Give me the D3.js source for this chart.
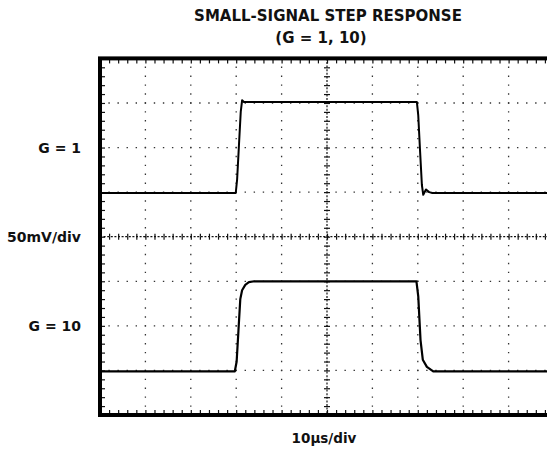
<!DOCTYPE html>
<html>
<head>
<meta charset="utf-8">
<script src="https://cdn.jsdelivr.net/npm/d3@7"></script>
<style>
    body { margin: 0; background: #fff; }
    text { font-family: "DejaVu Sans", sans-serif; font-weight: bold; fill: #111; }
</style>
</head>
<body>
<div id="chart"></div>
<script>
// horizontal: time in us (10us/div), vertical: mV (50mV/div)
const xDivs = d3.range(0, 101, 10);
const xMinor = d3.range(0, 101, 2);
const yDivs = d3.range(-200, 201, 50);
const yMinor = d3.range(-200, 201, 10);

// G = 1 trace
const g1Time  = [0, 29.9, 30.2, 30.6, 31.0, 31.3, 31.7, 32.5, 69.8, 70.1, 70.5, 70.9, 71.2, 71.8, 72.5, 73.2, 100];
const g1Volts = [49, 49, 64, 102, 140, 153, 151, 151, 151, 136, 96, 58, 47, 53, 50, 49, 49];

// G = 10 trace
const g10Time  = [0, 29.7, 30.1, 30.5, 30.9, 31.3, 32.0, 32.8, 34, 69.7, 70.1, 70.6, 71.1, 72.0, 73.4, 100];
const g10Volts = [-151, -151, -140, -105, -70, -60, -54, -51, -50, -50, -67, -116, -138, -146, -151, -151];

const sideLabels = [
    {text: "G = 1", v: 100},
    {text: "50mV/div", v: 0},
    {text: "G = 10", v: -100}
];

let width = 547, height = 453;

let svg = d3.select("#chart").append("svg")
    .attr("width", width)
    .attr("height", height);

let x = d3.scaleLinear().domain([0, 100]).range([100, 554]);
let y = d3.scaleLinear().domain([-200, 200]).range([415, 58.4]);

let xStep = x(2) - x(0);
let yStep = y(0) - y(10);

// dotted graticule
let grid = svg.append("g").attr("stroke", "#333").attr("stroke-width", 1.3);

grid.selectAll(".hgrid")
    .data(yDivs.filter(d => d > -200 && d < 200 && d !== 0))
    .enter().append("line")
    .attr("x1", x(0)).attr("x2", x(100))
    .attr("y1", d => y(d)).attr("y2", d => y(d))
    .attr("stroke-dasharray", "1.4," + (xStep - 1.4))
    .attr("stroke-dashoffset", 0.7);

grid.selectAll(".vgrid")
    .data(xDivs.filter(d => d > 0 && d < 100 && d !== 50))
    .enter().append("line")
    .attr("y1", y(200)).attr("y2", y(-200))
    .attr("x1", d => x(d)).attr("x2", d => x(d))
    .attr("stroke-dasharray", "1.4," + (yStep - 1.4))
    .attr("stroke-dashoffset", 0.7);

// center axes with cross ticks
function styleAxis(g) {
    g.selectAll("text").remove();
    g.select(".domain").remove();
    g.selectAll(".tick line").attr("stroke", "#111").attr("stroke-width", 1.2);
}

let hCenter = svg.append("g").attr("transform", "translate(0," + y(0) + ")");
hCenter.append("g").call(d3.axisBottom(x).tickValues(xMinor).tickSize(3).tickSizeOuter(0)).call(styleAxis);
hCenter.append("g").call(d3.axisTop(x).tickValues(xMinor).tickSize(3).tickSizeOuter(0)).call(styleAxis);
hCenter.append("line")
    .attr("x1", x(0)).attr("x2", x(100))
    .attr("stroke", "#111").attr("stroke-width", 1.2)
    .attr("stroke-dasharray", "2,1.6");

let vCenter = svg.append("g").attr("transform", "translate(" + x(50) + ",0)");
vCenter.append("g").call(d3.axisLeft(y).tickValues(yMinor).tickSize(3).tickSizeOuter(0)).call(styleAxis);
vCenter.append("g").call(d3.axisRight(y).tickValues(yMinor).tickSize(3).tickSizeOuter(0)).call(styleAxis);
vCenter.append("line")
    .attr("y1", y(200)).attr("y2", y(-200))
    .attr("stroke", "#111").attr("stroke-width", 1.2)
    .attr("stroke-dasharray", "2,1.6");

// frame ticks pointing inward
svg.append("g").attr("transform", "translate(0," + y(200) + ")")
    .call(d3.axisBottom(x).tickValues(xMinor).tickSize(5).tickSizeOuter(0)).call(styleAxis);
svg.append("g").attr("transform", "translate(0," + y(-200) + ")")
    .call(d3.axisTop(x).tickValues(xMinor).tickSize(5).tickSizeOuter(0)).call(styleAxis);
svg.append("g").attr("transform", "translate(" + x(0) + ",0)")
    .call(d3.axisRight(y).tickValues(yMinor).tickSize(5).tickSizeOuter(0)).call(styleAxis);

// frame
svg.append("rect")
    .attr("x", x(0)).attr("y", y(200))
    .attr("width", x(100) - x(0)).attr("height", y(-200) - y(200))
    .attr("fill", "none")
    .attr("stroke", "#000")
    .attr("stroke-width", 4);

// traces
let line = d3.line()
    .x(d => x(d[0]))
    .y(d => y(d[1]));

svg.append("path")
    .datum(d3.zip(g1Time, g1Volts))
    .attr("d", line)
    .attr("fill", "none")
    .attr("stroke", "#000")
    .attr("stroke-width", 2)
    .attr("stroke-linejoin", "round");

svg.append("path")
    .datum(d3.zip(g10Time, g10Volts))
    .attr("d", line)
    .attr("fill", "none")
    .attr("stroke", "#000")
    .attr("stroke-width", 2.2)
    .attr("stroke-linejoin", "round");

// titles
svg.append("text")
    .attr("x", 328).attr("y", 21)
    .attr("text-anchor", "middle")
    .style("font-size", "15px")
    .text("SMALL-SIGNAL STEP RESPONSE");

svg.append("text")
    .attr("x", 321).attr("y", 42.5)
    .attr("text-anchor", "middle")
    .style("font-size", "15px")
    .text("(G = 1, 10)");

svg.selectAll(".side")
    .data(sideLabels)
    .enter().append("text")
    .attr("x", 81)
    .attr("y", d => y(d.v) + 5)
    .attr("text-anchor", "end")
    .style("font-size", "14px")
    .text(d => d.text);

svg.append("text")
    .attr("x", 324).attr("y", 443)
    .attr("text-anchor", "middle")
    .style("font-size", "13.5px")
    .text("10\u00b5s/div");
</script>
</body>
</html>
